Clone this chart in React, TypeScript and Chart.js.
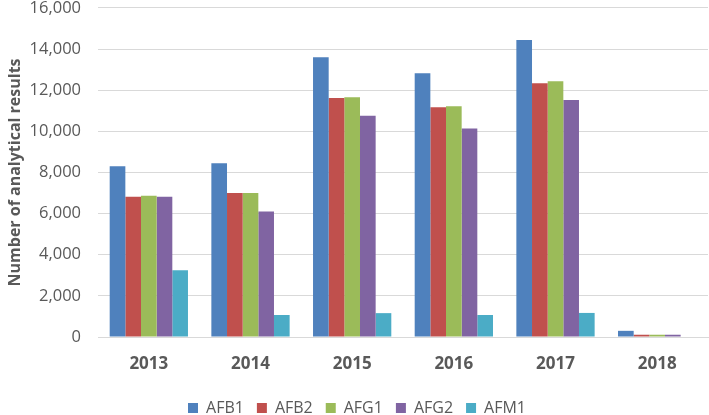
import React, { useEffect, useRef } from "react";
import { Chart, registerables } from "chart.js";

Chart.register(...registerables);

const years = ["2013", "2014", "2015", "2016", "2017", "2018"];
const afb1 = [8300, 8450, 13600, 12820, 14440, 300];
const afb2 = [6820, 7000, 11620, 11170, 12340, 110];
const afg1 = [6870, 7000, 11660, 11220, 12430, 110];
const afg2 = [6820, 6100, 10760, 10140, 11520, 110];
const afm1 = [3250, 1070, 1160, 1070, 1170, 0];
const seriesNames = ["AFB1", "AFB2", "AFG1", "AFG2", "AFM1"];
const seriesColors = ["#4F81BD", "#C0504D", "#9BBB59", "#8064A2", "#4BACC6"];
const yTicks = [0, 2000, 4000, 6000, 8000, 10000, 12000, 14000, 16000];

const TOP_SHIFT = 19;
const CANVAS_H = 445;

export default function App() {
  const ref = useRef<HTMLCanvasElement | null>(null);
  useEffect(() => {
    if (!ref.current) return;
    const values = [afb1, afb2, afg1, afg2, afm1];
    const chart = new Chart(ref.current, {
      type: "bar",
      data: {
        labels: years,
        datasets: seriesNames.map((n, i) => ({
          label: n,
          data: values[i],
          backgroundColor: seriesColors[i],
          borderWidth: 0,
          categoryPercentage: 0.77,
          barPercentage: 1.0,
        })),
      },
      options: {
        animation: false,
        responsive: false,
        maintainAspectRatio: false,
        layout: { padding: { left: 6, right: 1, top: 0, bottom: 0 } },
        plugins: {
          tooltip: { enabled: false },
          legend: {
            position: "bottom",
            labels: {
              boxWidth: 10,
              boxHeight: 10,
              padding: 13,
              color: "#595959",
              font: { family: "Open Sans", size: 16 },
            },
          },
        },
        scales: {
          x: {
            grid: { display: false, drawTicks: false },
            border: { display: true, color: "#d9d9d9", width: 1 },
            ticks: {
              color: "#595959",
              padding: 17,
              font: { family: "Open Sans", size: 17, weight: "bold" },
            },
            afterFit: (axis: any) => {
              axis.height = 50;
            },
          },
          y: {
            min: 0,
            max: 16000,
            afterBuildTicks: (axis: any) => {
              axis.ticks = yTicks.map((v) => ({ value: v }));
            },
            afterFit: (axis: any) => {
              axis.width = 92;
            },
            grid: { color: "#d9d9d9", lineWidth: 1, drawTicks: false },
            border: { display: false },
            ticks: {
              color: "#595959",
              padding: 17,
              font: { family: "Open Sans", size: 16.5 },
              callback: (v: any) => Number(v).toLocaleString("en-US"),
            },
            title: {
              display: true,
              text: "Number of analytical results",
              color: "#595959",
              padding: { top: 0, bottom: 0 },
              font: { family: "Open Sans", size: 16, weight: "bold" },
            },
          },
        },
      },
    });
    return () => chart.destroy();
  }, []);
  return (
    <div
      style={{
        position: "fixed",
        left: 0,
        top: 0,
        width: 709,
        height: 415,
        overflow: "hidden",
        background: "#fff",
      }}
    >
      <canvas
        ref={ref}
        width={709}
        height={CANVAS_H}
        style={{ position: "absolute", left: 0, top: -TOP_SHIFT, width: 709, height: CANVAS_H }}
      />
    </div>
  );
}
